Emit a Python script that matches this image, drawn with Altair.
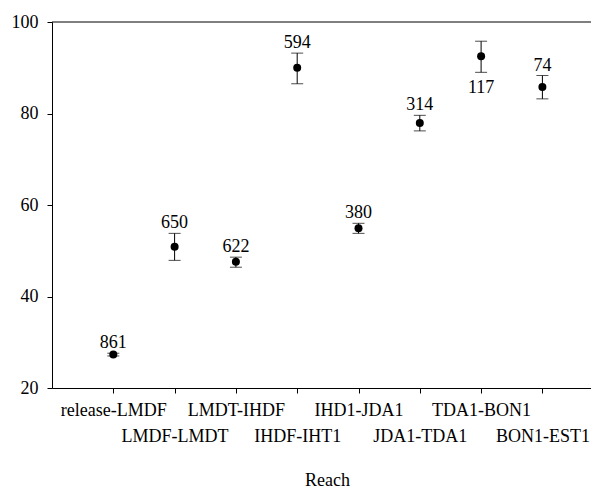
import altair as alt
import pandas as pd

# Reach segments along the migration route
reaches = ["release-LMDF", "LMDF-LMDT", "LMDT-IHDF", "IHDF-IHT1",
           "IHD1-JDA1", "JDA1-TDA1", "TDA1-BON1", "BON1-EST1"]
# Mean value per reach with lower / upper error limits
means = [27.3, 50.9, 47.6, 90.0, 54.9, 77.9, 92.5, 85.8]
lower = [27.0, 47.9, 46.4, 86.5, 53.8, 76.2, 89.0, 83.2]
upper = [27.6, 53.8, 48.6, 93.2, 56.0, 79.6, 95.8, 88.3]
# Sample size shown beside each point
counts = [861, 650, 622, 594, 380, 314, 117, 74]
# Where the count sits relative to its error bar
count_side = ["above", "above", "above", "above", "above", "above", "below", "above"]

df = pd.DataFrame({
    "pos": list(range(1, len(reaches) + 1)),
    "reach": reaches,
    "mean": means,
    "lo": lower,
    "hi": upper,
    "n": counts,
    "side": count_side,
})

FONT = "Times New Roman, Liberation Serif, serif"
names_js = "[" + ",".join("'" + r + "'" for r in reaches) + "]"
label_expr = (
    f"datum.value % 2 == 0 ? ['', {names_js}[datum.value - 1]] "
    f": {names_js}[datum.value - 1]"
)

x = alt.X(
    "pos:Q",
    scale=alt.Scale(domain=[0, 539 / 61.3], nice=False, zero=False),
    axis=alt.Axis(
        values=list(range(1, len(reaches) + 1)),
        labelExpr=label_expr,
        labelOverlap=False,
        labelFlush=False,
        labelFont=FONT,
        labelFontSize=18,
        labelColor="black",
        labelBaseline="top",
        labelPadding=8,
        labelLineHeight=26,
        tickSize=5,
        tickColor="black",
        domainColor="black",
        grid=False,
        title="Reach",
        titleFont=FONT,
        titleFontSize=18,
        titleFontWeight="normal",
        titleColor="black",
        titleX=275,
        titleY=97,
        titleAlign="center",
        titleBaseline="alphabetic",
    ),
)

y_scale = alt.Scale(domain=[20, 100], nice=False, zero=False)
y_axis = alt.Axis(
    values=[20, 40, 60, 80, 100],
    labelFont=FONT,
    labelFontSize=18,
    labelColor="black",
    labelPadding=9,
    tickSize=5,
    tickColor="black",
    domainColor="black",
    grid=False,
    title=None,
)

base = alt.Chart(df)

bars = base.mark_rule(color="black", strokeWidth=1).encode(
    x=x,
    y=alt.Y("lo:Q", scale=y_scale, axis=y_axis),
    y2="hi:Q",
)
cap_hi = base.mark_tick(color="black", orient="horizontal", size=12, thickness=1).encode(
    x="pos:Q", y="hi:Q"
)
cap_lo = base.mark_tick(color="black", orient="horizontal", size=12, thickness=1).encode(
    x="pos:Q", y="lo:Q"
)
dots = base.mark_circle(color="black", opacity=1, size=64).encode(
    x="pos:Q", y="mean:Q"
)
text_above = base.transform_filter("datum.side == 'above'").mark_text(
    font=FONT, fontSize=18, color="black", baseline="alphabetic", dy=-5
).encode(x="pos:Q", y="hi:Q", text="n:Q")
text_below = base.transform_filter("datum.side == 'below'").mark_text(
    font=FONT, fontSize=18, color="black", baseline="alphabetic", dy=21
).encode(x="pos:Q", y="lo:Q", text="n:Q")

# Top frame line of the plot area
top_line = alt.Chart(pd.DataFrame({"top": [100]})).mark_rule(
    color="black", strokeWidth=1
).encode(y="top:Q")

chart = alt.layer(
    bars, cap_hi, cap_lo, dots, text_above, text_below, top_line
).properties(
    width=539,
    height=366,
    autosize=alt.AutoSizeParams(type="none"),
    padding={"left": 52, "top": 22, "right": 0, "bottom": 99},
    background="white",
).configure_view(stroke=None)

chart.save("out.html", embed_options={"renderer": "svg", "actions": False})
